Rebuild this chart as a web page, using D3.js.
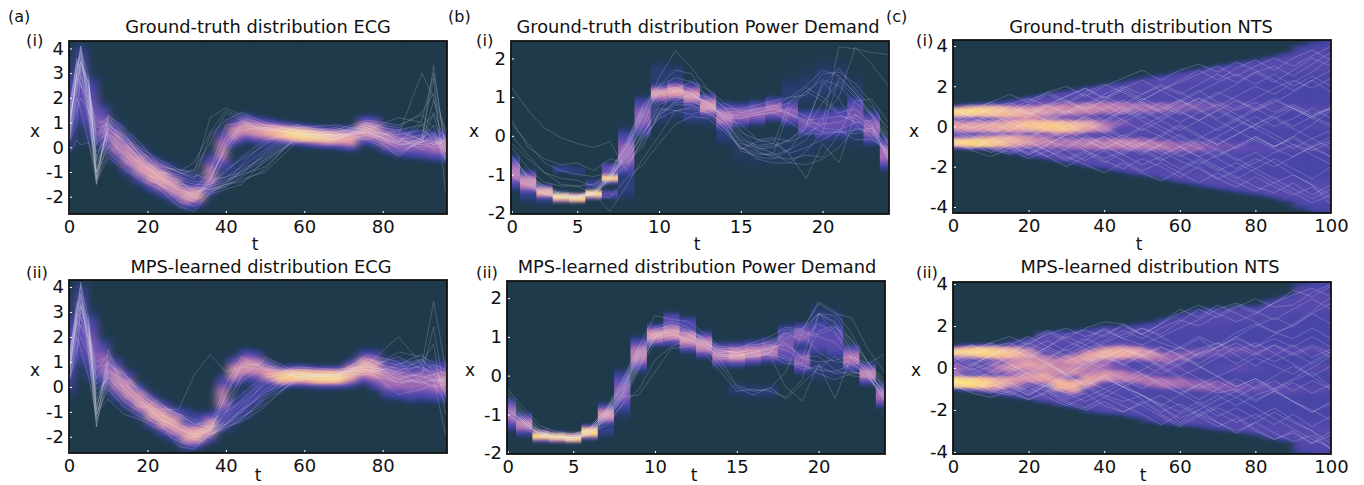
<!DOCTYPE html>
<html>
<head>
<meta charset="utf-8">
<script src="https://cdn.jsdelivr.net/npm/d3@7"></script>
<style>
  body { margin: 0; background: #fff; }
  text { font-family: "DejaVu Sans", sans-serif; fill: #111; }
</style>
</head>
<body>
<div id="viz"></div>
<script>
// colour ramp of the density images
const heatStops = [0, 0.04, 0.1, 0.2, 0.32, 0.45, 0.6, 0.75, 0.9, 1];
const heatColors = ["#1f3a4a", "#223a5c", "#32408a", "#4a46a8", "#5f4cb0", "#a56cb4", "#e6a0a6", "#f9c48c", "#ffdf70", "#fff6b0"];

// ECG density, one column every 3 t
const ecgCols = [0,3,6,9,12,15,18,21,24,27,30,33,36,39,42,45,48,51,54,57,60,63,66,69,72,75,78,81,84,87,90,93,96];
const ecgTruthCenter = [1.5,2.5,1.5,.8,.2,-.3,-.7,-1.05,-1.3,-1.6,-1.95,-1.9,-1.1,-.1,.6,.8,.7,.65,.6,.55,.5,.45,.4,.4,.35,.7,.65,.35,.2,.15,.1,.05,.05];
const ecgTruthSpread = [1.1,1.1,.9,.62,.55,.53,.5,.47,.47,.44,.36,.33,.55,.55,.38,.38,.36,.33,.3,.28,.28,.28,.28,.3,.33,.38,.4,.38,.38,.38,.37,.4,.4];
const ecgTruthPeak = [.28,.33,.36,.42,.5,.54,.58,.62,.6,.56,.58,.58,.5,.5,.54,.56,.58,.64,.72,.85,.85,.78,.74,.64,.62,.58,.56,.5,.44,.42,.42,.44,.5];
const ecgTruthLagCenter = [0,0,0,0,0,0,0,0,0,-1,-1.3,-1.5,-1.4,-1.2,-.9,-.6,-.3,0,.2,.3,.3,.3,.3,.3,.3,.3,.3,.3,.3,.3,.3,.3,.3];
const ecgTruthLagSpread = [.3,.3,.3,.3,.3,.3,.3,.3,.3,.3,.3,.3,.35,.35,.4,.4,.4,.3,.3,.3,.3,.3,.3,.3,.3,.3,.3,.3,.3,.3,.3,.3,.3];
const ecgTruthLagPeak = [0,0,0,0,0,0,0,0,0,.08,.12,.14,.08,.08,.08,.07,.07,.08,.08,0,0,0,0,0,0,0,0,0,0,0,0,0,0];
const ecgMpsCenter = [1.3,2.5,1.6,.9,.3,-.1,-.55,-.95,-1.25,-1.5,-1.9,-1.9,-1.6,-.4,.6,.85,.8,.55,.4,.45,.45,.4,.4,.4,.55,.8,.7,.35,.3,.2,.25,.2,.25];
const ecgMpsSpread = [1.1,1.1,.9,.65,.55,.5,.45,.45,.45,.45,.4,.36,.4,.55,.4,.43,.43,.33,.28,.28,.28,.28,.28,.28,.36,.43,.5,.52,.52,.52,.52,.52,.52];
const ecgMpsPeak = [.28,.33,.38,.44,.52,.56,.58,.62,.64,.6,.6,.66,.62,.5,.56,.56,.54,.6,.76,.8,.8,.82,.85,.8,.68,.64,.6,.48,.46,.44,.44,.46,.54];
const ecgMpsLagCenter = [0,0,0,0,0,0,0,0,0,0,-1.2,-1.4,-1.6,-1.4,-1,-.7,-.2,.1,.2,.3,.3,.3,.3,.3,.3,.3,.3,.3,.3,.3,.3,.3,.3];
const ecgMpsLagSpread = [.3,.3,.3,.3,.3,.3,.3,.3,.3,.3,.3,.3,.25,.3,.4,.42,.42,.3,.3,.3,.3,.3,.3,.3,.3,.3,.3,.3,.3,.3,.3,.3,.3];
const ecgMpsLagPeak = [0,0,0,0,0,0,0,0,0,0,.15,.2,.24,.24,.2,.2,.2,.18,.12,0,0,0,0,0,0,0,0,0,0,0,0,0,0];

// Power Demand density, one block per hour
const powerCols = [1,2,3,4,5,6,7,8,9,10,11,12,13,14,15,16,17,18,19,20,21,22,23,24];
const powerTruthCenter = [-.95,-1.2,-1.45,-1.58,-1.6,-1.5,-1.08,-.45,.5,1.1,1.15,1.05,.78,.5,.55,.6,.7,.6,.35,.3,.35,.55,.2,-.45];
const powerTruthSpread = [.27,.2,.12,.085,.08,.08,.09,.4,.33,.16,.18,.2,.2,.24,.2,.2,.2,.22,.22,.27,.27,.32,.28,.28];
const powerTruthPeak = [.48,.54,.66,.92,.96,.95,.82,.42,.4,.58,.6,.56,.56,.48,.44,.44,.46,.4,.36,.34,.34,.36,.42,.46];
const powerTruthLowCenter = [0,-1.5,-1.6,-.85,-.9,-1.25,-.85,-1.3,0,.6,.7,.6,.5,.1,-.3,-.4,-.4,-.3,-.2,0,.1,.1,.1,-.6];
const powerTruthLowSpread = [.1,.15,.15,.08,.1,.1,.1,.25,.1,.25,.25,.2,.2,.25,.3,.3,.3,.35,.35,.35,.3,.3,.3,.2];
const powerTruthLowPeak = [0,.1,.09,.12,.08,.14,.34,.08,0,.08,.07,.12,.07,.08,.05,.05,.05,.05,.05,.05,.06,.06,.06,.1];
const powerTruthHighCenter = [0,0,0,0,0,0,-1.5,0,0,1.6,1.6,0,0,0,0,0,0,1.1,1.2,1.4,1.4,1.2,0,0];
const powerTruthHighSpread = [.1,.1,.1,.1,.1,.1,.07,.1,.1,.25,.2,.1,.1,.1,.1,.1,.1,.3,.4,.4,.4,.3,.1,.1];
const powerTruthHighPeak = [0,0,0,0,0,0,.32,0,0,.07,.07,0,0,0,0,0,0,.07,.06,.07,.06,.05,0,0];
const powerMpsCenter = [-1.0,-1.25,-1.55,-1.58,-1.6,-1.45,-1.0,-.4,.55,1.05,1.1,.95,.8,.55,.55,.6,.65,.8,.4,1.0,.9,.45,.05,-.5];
const powerMpsSpread = [.26,.18,.1,.085,.08,.12,.18,.35,.28,.18,.2,.22,.22,.2,.2,.2,.2,.33,.22,.32,.32,.22,.18,.2];
const powerMpsPeak = [.44,.5,.85,.88,.93,.88,.56,.38,.5,.58,.58,.56,.54,.5,.58,.54,.5,.38,.4,.3,.3,.48,.5,.46];
const powerMpsLowCenter = [0,0,0,0,0,0,-1.4,-.8,0,0,0,0,0,0,-.35,-.4,-.4,0,1.05,.2,.2,0,0,0];
const powerMpsLowSpread = [.1,.1,.1,.1,.1,.1,.12,.25,.1,.1,.1,.1,.1,.1,.14,.14,.14,.1,.2,.25,.25,.1,.1,.1];
const powerMpsLowPeak = [0,0,0,0,0,0,.1,.08,0,0,0,0,0,0,.07,.07,.07,0,.4,.08,.07,0,0,0];
const powerMpsHighCenter = [0,0,0,0,0,0,0,0,0,0,1.4,1.3,0,0,0,0,0,0,0,1.5,1.4,0,0,0];
const powerMpsHighSpread = [.1,.1,.1,.1,.1,.1,.1,.1,.1,.1,.16,.16,.1,.1,.1,.1,.1,.1,.1,.25,.25,.1,.1,.1];
const powerMpsHighPeak = [0,0,0,0,0,0,0,0,0,0,.32,.24,0,0,0,0,0,0,0,.08,.08,0,0,0];

// NTS density, one column every 4 t
const ntsCols = [0,4,8,12,16,20,24,28,32,36,40,44,48,52,56,60,64,68,72,76,80,84,88,92,96,100];
const ntsArmSpread = [.3,.3,.32,.34,.36,.36,.36,.36,.36,.36,.36,.36,.34,.34,.34,.34,.34,.34,.34,.34,.32,.32,.3,.3,.3,.3];
const ntsOuterSpread = [.3,.3,.3,.3,.35,.4,.45,.5,.5,.5,.55,.55,.6,.6,.6,.65,.65,.7,.7,.7,.7,.7,.75,.8,.8,.8];
const ntsTruthTop = [1.15,1.2,1.25,1.35,1.45,1.6,1.7,1.85,1.95,2.1,2.2,2.3,2.45,2.6,2.7,2.85,2.95,3.1,3.2,3.35,3.45,3.6,3.8,4.2,4.4,4.6];
const ntsTruthBottom = [-1.15,-1.2,-1.25,-1.35,-1.45,-1.6,-1.7,-1.85,-1.95,-2.1,-2.2,-2.35,-2.5,-2.6,-2.75,-2.9,-3,-3.15,-3.25,-3.4,-3.5,-3.65,-3.85,-4.2,-4.4,-4.6];
const ntsTruthBase = [.3,.3,.3,.3,.3,.3,.3,.28,.27,.26,.26,.25,.25,.24,.24,.24,.23,.23,.23,.22,.22,.2,.2,.2,.2,.2];
const ntsTruthUpCenter = [.8,.8,.8,.75,.7,.7,.8,.85,.85,.9,.95,.95,.95,.95,.95,1,1,1,1,1,1,1,.95,.9,.9,.85];
const ntsTruthUpPeak = [.86,.88,.82,.74,.68,.62,.58,.56,.54,.54,.52,.5,.46,.44,.42,.4,.38,.36,.34,.32,.31,.3,.28,.27,.27,.27];
const ntsTruthMidCenter = [.05,0,0,0,.05,.1,.05,0,0,.05,0,.2,.15,.1,.1,.05,0,0,0,0,0,0,0,0,0,0];
const ntsTruthMidPeak = [.6,.62,.62,.64,.68,.74,.78,.78,.72,.62,.5,.38,.32,.28,.26,.25,.24,.23,.23,.23,.23,.23,.24,.24,.24,.24];
const ntsTruthLowCenter = [-.85,-.85,-.8,-.75,-.7,-.7,-.75,-.8,-.85,-.85,-.85,-.85,-.85,-.9,-.95,-1,-1,-1,-1,-1,-1.05,-1.05,-1.05,-1.05,-1,-.9];
const ntsTruthLowPeak = [.88,.9,.83,.74,.66,.58,.52,.48,.48,.5,.5,.52,.52,.5,.48,.44,.42,.38,.35,.33,.31,.3,.28,.27,.27,.27];
const ntsTruthOutUpCenter = [1.2,1.2,1.2,1.3,1.4,1.5,1.5,1.6,1.7,1.8,1.9,2.0,2.1,2.2,2.4,2.5,2.6,2.7,2.7,2.8,2.9,3.0,3.1,3.2,3.2,3.2];
const ntsTruthOutUpPeak = [0,0,0,.2,.25,.3,.31,.31,.31,.3,.29,.29,.28,.28,.28,.28,.28,.28,.28,.28,.28,.28,.28,.28,.28,.28];
const ntsTruthOutLowCenter = [-1.2,-1.2,-1.2,-1.3,-1.4,-1.5,-1.5,-1.6,-1.7,-1.8,-1.9,-2.0,-2.1,-2.2,-2.4,-2.5,-2.6,-2.7,-2.8,-2.9,-3.0,-3.0,-3.1,-3.2,-3.2,-3.2];
const ntsTruthOutLowPeak = [0,0,0,.2,.25,.3,.31,.31,.31,.3,.29,.29,.28,.28,.28,.28,.28,.28,.28,.28,.28,.28,.28,.28,.28,.28];
const ntsMpsTop = [1.15,1.2,1.25,1.25,1.4,1.55,1.85,1.9,1.9,2.0,2.15,2.1,2.2,2.3,2.5,2.7,2.9,3.0,3.0,3.1,3.1,3.4,3.6,4.2,4.4,4.6];
const ntsMpsBottom = [-1.15,-1.2,-1.3,-1.4,-1.5,-1.6,-1.75,-1.9,-2.0,-2.2,-2.3,-2.35,-2.5,-2.7,-2.8,-2.85,-2.9,-3.0,-3.1,-3.2,-3.3,-3.5,-3.6,-4.2,-4.4,-4.6];
const ntsMpsBase = [.3,.3,.3,.3,.3,.3,.3,.26,.26,.25,.24,.24,.22,.22,.22,.21,.21,.21,.2,.2,.2,.2,.2,.2,.2,.2];
const ntsMpsUpCenter = [.85,.85,.8,.75,.7,.65,.35,.25,.35,.55,.7,.75,.75,.65,.5,.55,.7,.75,.8,.85,.85,.85,.85,.85,.85,.85];
const ntsMpsUpPeak = [.84,.88,.86,.78,.7,.58,.53,.53,.58,.63,.66,.66,.62,.56,.46,.42,.38,.36,.35,.34,.33,.31,.29,.28,.28,.28];
const ntsMpsMidCenter = [0,0,0,0,.1,.2,.1,-.1,-.1,0,.1,.1,0,0,0,0,0,0,0,0,0,0,0,0,0,0];
const ntsMpsMidPeak = [.46,.34,.34,.46,.56,.6,.58,.55,.55,.5,.45,.34,.24,.3,.34,.32,.27,.22,.27,.3,.27,.2,.22,.25,.27,.27];
const ntsMpsLowCenter = [-.65,-.7,-.7,-.7,-.6,-.4,-.4,-.75,-.85,-.55,-.35,-.35,-.45,-.6,-.7,-.7,-.8,-.85,-.9,-.95,-.95,-.95,-1,-1,-1,-1];
const ntsMpsLowPeak = [.93,.9,.83,.68,.58,.58,.63,.7,.68,.63,.58,.53,.5,.48,.48,.46,.42,.42,.38,.36,.34,.33,.31,.28,.27,.27];
const ntsMpsOutUpCenter = [1.2,1.2,1.2,1.3,1.4,1.5,1.5,1.5,1.5,1.6,1.7,1.7,1.8,1.9,2.1,2.3,2.4,2.5,2.5,2.6,2.6,2.8,3.0,3.2,3.2,3.2];
const ntsMpsOutUpPeak = [0,0,0,.2,.25,.3,.32,.3,.27,.28,.28,.26,.25,.25,.26,.27,.27,.27,.27,.27,.26,.26,.27,.28,.28,.28];
const ntsMpsOutLowCenter = [-1.2,-1.2,-1.2,-1.3,-1.4,-1.5,-1.5,-1.5,-1.6,-1.7,-1.8,-1.8,-1.9,-2,-2.3,-2.4,-2.5,-2.6,-2.7,-2.8,-2.9,-3,-3.1,-3.2,-3.2,-3.2];
const ntsMpsOutLowPeak = [0,0,0,.2,.25,.3,.3,.28,.28,.28,.28,.28,.26,.22,.27,.27,.27,.27,.27,.27,.27,.27,.27,.28,.28,.28];

// sampled traces on top of the densities
const ecgTraceT = [0,2,3,5,7,10,14,18,23,28,32,36,40,44,50,58,68,76,84,90,93,96];
const ecgTruthTraces = [
  [.3,3.2,4.1,2,-1.5,.5,-.2,-.6,-1.2,-1.6,-2,-1.3,0,.8,.7,.6,.4,.8,.3,.1,0,0],
  [1,3,3.8,1.5,-1.2,1,.2,-.4,-1,-1.5,-2,-1.2,-.1,.9,.75,.55,.45,.7,.25,.2,.3,.1],
  [.5,2.5,3.5,2.5,.5,.8,.1,-.6,-1.1,-1.3,-1.9,-1.6,-.3,.7,.8,.7,.5,1,.6,.3,.1,.3],
  [1.5,3.5,3,2.2,-.5,1.2,.5,-.1,-.8,-.9,-1,1.2,1.6,1.3,.9,.7,.5,.9,.5,3,2,-.5],
  [-.3,.3,.1,.2,-1.4,-.4,-.9,-1.3,-1.7,-2.4,-2.6,-1.8,-1.5,-1.3,-1,.2,.5,.6,.2,.1,.2,0],
  [.2,1.5,2,1.5,-1,.5,-.5,-.9,-1.4,-2.1,-1.8,-1.6,-1.4,-1,-.3,.6,.4,.3,-.3,.3,3.3,-.2],
  [.8,2.8,2.5,2,.8,.9,.5,-.3,-.7,-1,-.6,.6,1.5,1.2,.9,.8,.7,1.1,.9,1.3,.8,-.6],
  [.4,2,1.5,.2,-1,.8,.2,-.5,-1.2,-1.7,-1.9,-1.5,-1,-.4,.3,.6,.3,.7,-.4,.4,2.8,-1.8],
  [1.2,3.3,3.7,1.8,-.2,.4,-.3,-.8,-1.3,-1.8,-2.1,-1.4,.2,.9,.8,.5,.35,.6,.15,0,.2,.3],
  [.6,3,2.6,1.5,.9,1.2,.6,-.3,-1,-1.2,-1.4,-1.4,-1.2,-.8,-.1,.8,.9,.7,1.2,1,.5,.2],
  [.2,1,3.2,2.6,-1,0,-.6,-1.1,-1.5,-1.9,-2.2,-1.7,-1.6,-1.2,-.6,.3,.6,.9,.4,-.1,.1,.2],
  [.9,2.6,3.4,2.8,-.8,.7,.3,-.2,-.6,-1,-1.2,-.9,.9,1,.7,.6,.8,.5,0,.4,.6,-.1],
  [.7,2.9,4.1,1.3,-1.5,1.3,.7,0,-.5,-.9,-1.1,-1.3,-1.2,-1,-.5,.4,.7,.6,.1,.3,.9,.4],
  [1.1,3.6,3.2,2.4,.2,.6,-.1,-.7,-1.2,-1.6,-1.7,-1.5,-.9,-.5,.1,.8,.5,.4,-.2,.2,1.9,.6],
  [.1,2.2,2.9,1.9,-1.3,-.2,-.8,-1.2,-1.5,-2.2,-2.4,-1.9,-1.4,-1.1,-.8,.4,.3,.9,.7,.9,1.3,-.4],
  [1.3,2.4,3.5,2.1,1.1,.9,.2,-.5,-1,-1.4,-1.7,-1,.4,1.1,.6,.9,.6,.8,.3,.5,.1,.5],
  [.6,3.1,3.9,2.9,-1.1,.9,.4,-.1,-.9,-1.4,-1.8,-1.7,-1.5,-1.4,-.9,.5,.5,.6,.5,.7,.4,.2],
  [.9,2.7,3.6,2.2,-.4,.6,0,-.7,-1.1,-1.7,-2,-1.8,-1.6,-.9,-.4,.5,.3,1,.2,1.1,3,.1],
  [1.6,3.4,2.8,1.7,.1,1.1,.4,-.3,-.9,-1.3,-1.5,-1.5,-1.3,-1.1,-.2,.7,.6,.3,.7,.3,-.1,.4],
  [.4,2.3,3.3,2.7,-.6,.3,-.3,-.9,-1.5,-2,-2.2,-1.3,.1,1,.9,.7,.3,.8,-.1,.2,.4,-.2],
  [.7,3,4,2.4,-1.3,.8,.1,-.4,-1,-1.1,-.9,.2,1.4,1.1,.8,.6,.5,.7,.4,.2,1.4,.3],
  [1,2.9,3.1,1.4,.6,1,.3,-.5,-1.1,-1.5,-1.6,-1.7,-1.5,-.7,.2,.9,.4,.6,.2,.9,.2,.1],
  [.3,1.8,2.6,1.1,-1.2,.1,-.5,-1,-1.3,-1.7,-2.1,-1.9,-1.7,-1.5,-.5,.3,.2,.5,.1,.2,.5,-.5],
  [1.4,3.2,3.4,2.6,.3,1.3,.8,.2,-.7,-1,-1.3,.5,1.1,1.4,1,.7,.6,1,.8,1.4,2.2,.7]
];
const ecgMpsTraces = [
  [.3,3,4.2,2.2,-1.6,.6,-.1,-.6,-1.2,-1.7,-2,-1.7,-.4,.9,.9,.4,.45,.9,.3,.2,0,.1],
  [.9,2.8,3.6,1.8,-.9,1.1,.3,-.4,-1,-1.5,-1.9,-1.8,-.3,.8,1,.5,.35,.8,.6,.4,.3,.2],
  [.5,2.4,3.2,2.6,.4,1,.2,-.5,-1.1,-1.4,-1.9,-1.7,-1.2,-.5,.4,.5,.4,1,.4,.5,.2,.4],
  [.2,1.5,2,1.3,-1.6,1.5,-.2,-.9,-1.4,-2.4,-2.5,-1.8,-1.5,-1.2,-.7,.3,.5,.7,.2,.2,.3,-1.9],
  [1,3.2,3.5,1.6,-.3,.4,-.4,-.8,-.9,-.9,.5,1.3,.6,.8,.7,.6,.5,.8,1.2,.7,.6,.1],
  [.7,2.6,2.4,2,.8,.9,.5,-.3,-.8,-1.1,-1.5,-1.6,-1.5,-1,-.1,.6,.35,.9,2,.9,3.4,.8],
  [.4,2,1.5,.4,-1.2,.7,.2,-.5,-1.3,-1.6,-2,-1.9,-1.5,-.9,.2,.5,.45,1,.3,.5,2.4,-.4],
  [1.2,3.1,3.8,2,-.1,.3,-.2,-.7,-1.3,-1.8,-2.1,-1.6,-.2,1,.8,.4,.3,.7,.5,.1,.3,.3],
  [.6,2.9,2.8,1.7,.7,1.3,.6,-.2,-.8,-1.2,-1.4,-1.7,-1.4,-.9,-.3,.7,.6,1.1,.9,1.1,.7,.2],
  [.3,1.1,3.3,2.4,-1,-.5,-1.1,-1.3,-1.7,-2.2,-2.4,-1.9,-1.7,-1.3,-.5,.2,.6,.6,.8,1,1.7,-1.1],
  [.8,2.5,3.4,2.7,-.7,.6,.3,-.1,-.7,-1.1,-1.3,-1.6,-1.1,.2,.9,.5,.5,.5,.2,.3,.5,0],
  [.6,2.7,4.1,1.2,-1.3,1,.5,0,-.6,-1.2,-1.6,-1.8,-1,.5,1.2,.6,.4,1.1,.7,.8,.5,.6],
  [1.1,3.4,3,2.3,.1,.7,0,-.6,-1.1,-1.5,-1.8,-1.6,-.8,-.3,.5,.7,.6,.7,.3,.6,.9,.7],
  [.1,2.1,2.8,1.9,-1.1,-.1,-.8,-1.2,-1.5,-2.1,-2.3,-2,-1.5,-1,-.2,.3,.3,.6,1.4,1.2,1,-.3],
  [.5,2.8,3.7,2.5,-.9,.9,.4,-.2,-.9,-1.3,-1.7,-1.9,-1.6,-1.3,-.4,.4,.5,1.2,.5,.9,.2,.3],
  [1,3,3.3,1.9,.3,.8,.1,-.4,-1,-1.6,-2,-2,-1.3,-.7,.1,.6,.3,.5,.9,1.3,.8,.5],
  [.6,2.2,3,2.1,-.5,.5,-.3,-.8,-1.4,-1.9,-2.1,-1.7,-.6,.4,1.1,.5,.5,.9,.1,.4,.5,-.2],
  [.8,3.3,4,2.8,-1.1,.4,0,-.7,-1.2,-1.7,-1.9,-1.5,.1,1.2,.7,.4,.4,1.3,1,.2,0,.4],
  [1.3,2.6,3.2,2.2,1,1.2,.5,-.1,-.7,-1.1,-1.5,-1.4,-1,-.6,.3,.8,.7,.8,.6,1.1,.6,.1],
  [.2,1.7,2.5,1.5,-1.4,.2,-.6,-1,-1.6,-2,-2.2,-1.9,-1.6,-1.4,-.8,.4,.2,.7,-.3,-.1,.1,-.6]
];
const powerTruthTraces = [
  [-.8,-1.15,-1.4,-1.55,-1.6,-1.45,-1.05,-.4,.55,1.1,1.2,1.1,.8,.5,.55,.6,.7,.6,.35,.3,.35,.55,.2,-.45],
  [-.6,-1,-1.3,-1.5,-1.55,-1.5,-1.1,-.55,.35,1,1.15,1.05,.85,.6,.65,.7,.8,.55,.4,.45,.5,.45,.1,-.6],
  [-1,-1.3,-1.5,-1.6,-1.6,-1.45,-1,-.2,.7,1.25,1.35,1.2,.85,.45,.45,.55,.6,.7,.5,.2,.15,.35,.25,-.3],
  [.3,-.2,-.7,-.9,-1,-1.05,-.95,-.55,.2,.9,1.05,1,.9,.55,0,-.35,-.3,-.1,.2,.85,1.4,1,.55,-.1],
  [1.25,.65,.2,-.05,-.2,-.3,-.15,-.9,-.05,.45,.65,.7,.6,.3,-.3,-.45,-.5,-.35,-.1,.5,1,2.3,1.85,1.3],
  [.4,-.3,-.6,-.75,-.7,-.9,-.6,-.7,-.3,.6,.85,.9,.7,.4,-.15,-.4,-.55,-.6,-.5,-.55,.05,.9,.95,.35],
  [-.3,-.85,-1.2,-1.3,-1.3,-1.5,-1.95,-1.3,-.6,0,.65,.75,.7,.45,-.1,-.25,-.2,-.45,-.3,-.1,.15,-.1,-.1,-.35],
  [-.5,-1.1,-1.35,-1.5,-1.55,-1.5,-1.2,-.8,-.1,.5,.9,1.1,1,.75,.15,-.3,-.45,.7,1.15,.9,.55,.35,.4,-.2],
  [-.7,-1.05,-1.3,-1.45,-1.5,-1.55,-1.6,-1.1,-.75,-.2,.3,.5,.45,.1,-.3,-.6,-.7,-.7,-.75,-.6,-.3,.2,.1,-.5],
  [-.2,-.6,-.95,-1.1,-1.15,-1.3,-.85,-.3,.5,1.5,2.2,1.75,1.2,.7,.7,.8,.9,1,1.3,1.7,1.55,1.1,.6,0],
  [-.9,-1.2,-1.45,-1.6,-1.6,-1.5,-1.1,-.5,.25,1.3,1.7,1.6,.9,.45,.3,-.1,-.05,-.15,.05,.3,2.3,2.25,2.15,2.1],
  [-.75,-1.15,-1.4,-1.55,-1.6,-1.4,-1,-.25,.75,1.2,1.25,1.1,.75,.55,.6,.7,.75,1,1.05,1.6,1.65,1.35,.85,.05],
  [-1,-1.35,-1.55,-1.6,-1.6,-1.45,-1.1,-.7,.05,.7,.65,.55,.7,.2,-.35,-.15,-.1,-.5,-1.1,-.2,-.7,.55,.3,-.6],
  [-.85,-1.2,-1.5,-1.6,-1.6,-1.5,-1.1,-.45,.45,1.1,1.15,1,.75,.5,.45,.55,.6,.35,.05,.05,.1,.15,.2,-.5],
  [-.95,-1.25,-1.5,-1.55,-1.55,-1.35,-.95,-.15,.8,1.3,1.5,1.4,1,.6,.1,-.1,-.2,.9,1.25,1,.6,.7,.3,-.4],
  [-.65,-1.1,-1.4,-1.5,-1.55,-1.4,-1.05,-.6,0,.8,1,.95,.6,.3,-.4,-.5,-.45,-.7,-.4,.1,1.5,1.1,.5,-.2],
  [-.55,-1.05,-1.35,-1.5,-1.55,-1.45,-1.15,-.75,-.2,.6,1.2,1.4,1.2,.85,.6,.65,.75,.85,1.15,1.45,1.3,.85,.55,-.15],
  [-.9,-1.25,-1.45,-1.55,-1.6,-1.5,-1.15,-.35,.6,1.15,1.2,1.05,.85,.4,-.2,-.3,-.25,-.1,.3,.1,.1,.05,.2,-.55],
  [-1.05,-1.3,-1.5,-1.6,-1.6,-1.5,-1.05,-.3,.65,1.15,1.25,1.1,.8,.55,.5,.6,.7,.55,.3,1.3,1.75,1.2,.75,.2],
  [0,-.5,-.95,-1.25,-1.3,-1.25,-1,-.65,.1,.55,.8,.8,.55,.2,-.3,-.55,-.6,-.35,.25,1.4,.95,.3,-.05,-.4]
];
const powerMpsTraces = [
  [-.6,-1.05,-1.45,-1.5,-1.55,-1.4,-.95,-.3,.6,1.05,1.1,.95,.8,.55,.55,.6,.7,.85,.45,1.6,1.35,.6,.05,-.55],
  [-.9,-1.2,-1.5,-1.6,-1.6,-1.45,-1,-.45,.55,1.1,1.2,1.05,.85,.6,.6,.65,.7,1,1.1,1,.85,.45,.1,-.4],
  [-1,-1.3,-1.55,-1.6,-1.65,-1.5,-1.1,-.5,.4,1,1.05,.9,.75,.5,.5,.55,.6,.95,1.05,.6,.35,.35,0,-.6],
  [-.35,-.85,-1.3,-1.45,-1.5,-1.35,-.85,-.1,.75,1.55,1.45,1.4,1.1,.75,.7,.85,1,1.25,1.2,1.85,1.6,1.5,.7,.1],
  [-.75,-1.15,-1.45,-1.55,-1.6,-1.5,-1.15,-.55,-.5,.1,.7,.75,.6,.1,-.4,-.35,-.4,-.55,-.1,1.6,1.55,.9,.35,-.3],
  [-.85,-1.2,-1.55,-1.6,-1.6,-1.45,-1.3,-.75,-.35,.4,.75,.95,.8,.25,-.3,-.5,-.3,-.6,-.2,.2,.5,.15,-.05,-.5],
  [-.95,-1.25,-1.5,-1.6,-1.55,-1.35,-.9,-.3,.5,1,1.15,1.05,.9,.55,.5,.6,.65,.5,.3,.05,-.1,.05,.1,-.45],
  [-.7,-1.1,-1.45,-1.55,-1.6,-1.45,-1.05,-.4,.65,1.15,1.35,1.15,.95,.7,.7,.8,.85,1.05,1.15,1.9,1.65,1.1,.35,-.2],
  [-1.05,-1.3,-1.5,-1.55,-1.6,-1.5,-1.1,-.65,.25,.95,1,.85,.65,.4,.5,.5,.55,-.3,-.65,.3,-.6,.5,.3,.55],
  [-.8,-1.2,-1.55,-1.65,-1.65,-1.4,-.95,-.2,.6,1.2,1.3,1.1,.8,.5,.5,.6,.7,.8,.5,.5,.15,0,-.05,-.6],
  [-.9,-1.2,-1.5,-1.55,-1.6,-1.55,-1.2,-.75,.15,.85,.95,1,.85,.4,-.25,-.4,-.35,.1,1.1,1.6,1.15,.55,.15,-.4],
  [-.55,-1,-1.4,-1.5,-1.5,-1.4,-1,-.35,.45,1.05,1.2,1.1,.85,.65,.6,.7,.8,.65,.45,.35,.4,.5,.2,-.5],
  [-1.1,-1.35,-1.6,-1.65,-1.7,-1.5,-1,-.45,.5,1.1,1.1,.9,.7,.45,.45,.5,.55,.45,.25,.15,.1,.3,.05,-.65],
  [-.75,-1.15,-1.45,-1.6,-1.6,-1.4,-1.05,-.5,.35,1,1.25,1.15,1,.7,.55,.45,.6,1.2,1.15,1.05,1.25,.95,.35,-.1],
  [-.65,-1.1,-1.5,-1.6,-1.55,-1.4,-.95,-.25,.7,1.1,1.3,1.2,.95,.6,.65,.75,.9,1.1,1.2,1.6,1.4,.8,.25,-.35],
  [-1,-1.25,-1.5,-1.55,-1.6,-1.5,-1.05,-.55,.3,.95,1.05,.95,.75,.5,.55,.55,.6,.4,.15,.25,.05,.1,0,-.55],
  [-.85,-1.2,-1.55,-1.6,-1.65,-1.45,-1.15,-.6,.2,1,1.15,1.1,.9,.65,.6,.65,.75,1.1,.9,1.35,1.1,.45,.1,-.45],
  [-.45,-.95,-1.4,-1.5,-1.55,-1.35,-.9,-.15,.75,1.25,1.4,1.25,.9,.55,.4,.5,.55,.3,.3,1.15,1.3,.7,.15,-.25]
];
const ntsTraceT = [0,5,10,15,20,25,30,35,40,45,50,55,60,65,70,75,80,85,90,95,100];
const ntsTruthTraces = [
  [.8,.5,.9,.4,.8,1.1,.6,1,1.5,1.1,1.6,2,1.6,2.1,2.6,2.2,2.7,3,2.5,3.1,3.7],
  [-.8,-.4,-.9,-.5,-.1,-.6,-.2,.3,-.2,.4,.9,.4,.9,1.4,1,1.5,2,1.6,2.2,2.7,3.4],
  [.9,.4,.1,.5,.9,.5,1.1,1.6,1.1,.6,1.1,.7,.2,.7,1.1,.6,.1,.6,1,.5,.9],
  [-.9,-.5,-1,-1.3,-.8,-1.2,-1.6,-1.2,-1.7,-2.1,-1.6,-2,-2.5,-2,-2.6,-3,-2.5,-3,-3.4,-3,-3.6],
  [.7,1,.6,1.1,1.4,1,1.5,1.9,1.4,1.9,2.3,1.8,1.3,1.8,1.2,.8,1.2,.7,1.1,.6,.9],
  [-.7,-1.1,-.7,-.2,-.6,-.1,-.6,-1,-.5,-1,-1.4,-.9,-1.4,-1.9,-1.4,-1,-.5,-1,-.5,-1,-.7],
  [.2,.7,.2,-.2,.2,.7,.2,-.3,.2,.7,1.2,.7,1.2,1.7,2.2,2.6,2.1,2.6,2,2.5,2],
  [-.2,-.7,-.3,.2,.7,.3,.8,.4,-.1,-.6,-.1,-.5,0,-.5,-.9,-.4,.1,.5,0,.5,.1],
  [.9,.5,.9,1.2,.7,.3,-.2,-.7,-1.1,-.6,-1.1,-1.6,-2.1,-1.6,-2.1,-2.6,-2.1,-1.6,-2.1,-2.6,-2],
  [-.9,-1.1,-.6,-1,-1.4,-1,-1.5,-1.9,-2.3,-1.8,-2.3,-2.7,-2.2,-1.7,-2.2,-1.8,-2.3,-2.8,-2.4,-2.9,-3.9],
  [.5,.1,.5,1,.6,1.1,1.5,1.9,1.4,1.9,1.4,1,.6,1.1,1.6,2.1,2.7,2.2,2.8,3.4,3],
  [-.5,-.1,.3,-.2,.3,-.2,-.7,-.2,.3,.8,.3,-.2,-.7,-1.1,-.6,-1.1,-.6,-1,-.5,.1,.8],
  [.8,1.1,.7,.2,-.2,-.7,-1,-.5,-.9,-1.4,-.9,-.4,.1,-.4,-.9,-.4,.1,-.4,-.9,-1.2,-.8],
  [-.8,-1.2,-1.5,-1.1,-.7,-1.2,-.7,-1.2,-1.6,-1.2,-.8,-1.2,-1.7,-2.1,-2.6,-2.2,-1.8,-1.3,-.9,-1.4,-1.9],
  [.6,.9,1.2,.8,1.3,1.7,2,1.5,2,2.4,2.8,2.3,2.8,3.1,2.7,3.2,2.8,2.3,1.8,2.3,1.7],
  [-.6,-.2,-.7,-1.1,-1.6,-1.2,-1.7,-1.3,-1.8,-1.3,-.9,-1.4,-1,-1.5,-2,-2.5,-3,-3.3,-2.8,-3.4,-2.9],
  [.3,-.1,-.5,-.9,-1.3,-.9,-.4,.1,-.3,.2,.7,1.2,.7,.3,.8,.3,.8,1.3,.9,.4,.9],
  [-.3,.2,.6,1,.6,1,1.3,.9,1.3,.9,.4,.9,1.3,.8,.3,-.2,-.7,-1.1,-1.5,-1,-.5],
  [.1,.5,1,.6,1.1,.7,1.2,.8,.3,.8,1.3,1.8,2.3,2.8,2.3,2.9,3.3,2.8,3.4,3.8,3.3],
  [-.1,-.5,-1,-.6,-1.1,-1.5,-1.1,-.6,-1.1,-.7,-1.2,-1.7,-1.2,-.7,-1.2,-1.7,-1.3,-1.8,-2.4,-2.9,-3.4],
  [.4,.8,.4,0,-.5,-.1,.4,0,.5,1,.5,0,-.5,-1,-1.5,-1,-.5,-1,-.6,-1.1,-1.5],
  [-.4,0,-.4,.1,.5,1,.7,1.1,1.6,2,1.6,2.1,1.7,1.2,1.7,1.3,.8,1.2,1.7,2.3,2.8],
  [.7,.3,-.1,-.6,-.2,.3,-.2,.2,-.3,-.8,-1.3,-.9,-.4,-.9,-.5,0,.5,0,.4,.9,.4],
  [-.7,-.3,.1,.6,1,.6,.1,-.4,-.9,-.4,-.9,-.5,-1,-.6,-.1,.4,.9,.4,.9,.5,1],
  [1,.7,1.1,.7,1.1,1.6,1.2,1.7,2.1,1.7,1.2,.8,1.3,.9,.4,.9,1.4,1.9,2.3,1.9,2.4],
  [-1,-.7,-1.1,-1.4,-1,-1.5,-2,-1.5,-1,-1.4,-1.9,-1.5,-1,-1.5,-1.1,-1.6,-2.1,-2.6,-3.1,-3.6,-3.1],
  [.6,.2,.6,.2,-.3,.2,.7,1.2,.8,.3,-.2,.3,-.2,.3,.8,1.3,.9,1.4,.9,.4,0],
  [-.6,-.9,-1.3,-.9,-1.4,-.9,-.4,-.9,-.5,-1,-.5,-1,-1.5,-1.1,-1.6,-2.1,-1.6,-2,-1.5,-1,-1.5],
  [.3,.8,1.2,1.6,1.2,1.7,1.3,.8,1.3,1.8,1.3,1.8,2.2,2.6,3,2.5,3,3.4,3,3.5,4],
  [-.2,.2,-.2,-.7,-1.1,-.7,-1.2,-1.7,-1.2,-1.7,-2.2,-1.8,-2.3,-2.8,-2.3,-2.8,-3.2,-2.8,-3.3,-3.8,-3.4],
  [.9,.5,0,.4,0,.5,0,.5,.9,1.3,.8,.3,.8,.3,-.2,.3,-.1,.4,-.1,-.6,-.2],
  [-.9,-.6,-.1,-.5,-.9,-.5,0,.5,0,-.5,0,.5,1,1.4,.9,.4,-.1,-.6,-1.1,-.6,-1.1]
];
const ntsMpsTraces = [
  [.8,.4,.9,.5,.9,1.3,.8,1.3,1.9,1.4,1.9,1.6,2.2,2.8,2.4,2.9,3.3,2.9,3,3.6,4],
  [-.8,-.4,-.9,-.5,0,-.5,-.1,.5,.1,.7,1,.6,1,1.5,1.1,1.7,2.1,1.7,2,2.6,2.1],
  [.9,.5,.1,.5,.9,.4,1,1.4,1,.5,.9,.6,.1,.7,1.2,.6,.1,.6,1.1,.5,.9],
  [-.9,-.5,-1,-1.2,-.8,-1.1,-1.5,-1.2,-1.8,-2.1,-1.6,-2.2,-2.7,-2.2,-2.6,-3.1,-2.6,-3.1,-3.5,-3.2,-3.9],
  [.7,1.1,.6,1.1,1.5,1,1.6,1.8,1.5,2.1,1.6,1.2,.9,1.4,.8,1.2,.7,.3,.7,1.1,.7],
  [-.7,-1,-.6,-.2,-.6,-.9,-1.2,-.9,-.3,-.8,-1.3,-1.8,-2.6,-2,-1.5,-1.1,-.6,-1.1,-1.6,-2,-2.5],
  [.3,.7,.2,-.2,.2,-.3,-.8,-.4,.2,.7,.2,-.3,.2,.7,1,1.5,1,1.6,2.1,2.7,3.4],
  [-.2,-.6,-.2,.3,.7,.2,-.4,.2,.7,.2,-.3,-.7,-1.2,-.8,-.4,-.9,-.5,-1,-.6,-.2,-.9],
  [.9,.6,1,1.2,.7,.3,-.3,-.8,-.4,-.9,-1.3,-1.9,-2.4,-2,-2.6,-3,-2.6,-2.1,-2.6,-3,-3.9],
  [-.9,-1.1,-.7,-1.2,-1.5,-1.1,-1.6,-1.9,-1.4,-1.8,-2.2,-2.7,-2.2,-1.8,-1.3,-1.8,-1.3,-1,-1.6,-2.1,-1.7],
  [.5,.1,.6,1,.5,1,1.5,1.1,1.6,2,1.6,2.1,2.8,2.4,3,2.6,2.2,1.7,1.4,1.9,1.4],
  [-.5,-.1,.3,-.1,.4,.9,.5,.9,.5,.2,.6,1,.6,.2,.7,.2,.7,1.1,.6,1,.5],
  [.8,1.1,.7,.2,-.3,-.8,-1,-.6,-1,-.6,-.1,.4,0,-.5,-1,-.5,-1,-.6,-1.1,-.6,-1],
  [-.8,-1.2,-1.4,-1.1,-.6,-1,-1.4,-1,-.5,-.9,-1.3,-1.8,-1.3,-.8,-1.2,-1,-1.5,-1.1,-.7,-1.2,-.8],
  [.6,.9,1.2,.8,1.3,1.8,1.4,1.9,2.2,2.1,1.6,2.1,2.6,3,2.6,2.2,2.6,3.1,3.7,3.4,3.9],
  [-.6,-.2,-.7,-1.1,-1.5,-1.2,-1.7,-2,-1.6,-2.1,-1.7,-1.3,-1.8,-2.3,-2.8,-2.4,-3,-3.4,-3,-3.6,-3.2],
  [.3,-.1,-.5,-.9,-1.3,-.8,-.3,.2,.6,.1,.6,1,.6,.1,-.4,0,.5,.1,-.3,.3,.8],
  [-.3,.1,.6,.9,.5,1,.6,.1,.5,.9,.6,.1,.5,.9,1.2,.8,1.2,.7,.2,-.4,.1],
  [.1,.6,1,.7,1.2,.8,.3,.7,1.2,1.6,1.9,1.5,1.9,2.3,2.8,3.1,2.7,2.3,2.8,3.3,2.8],
  [-.1,-.6,-1.1,-.7,-1.2,-.8,-1.3,-.9,-1.4,-.9,-1.5,-2.1,-1.7,-2.2,-1.8,-1.4,-1.9,-2.4,-2.9,-3.4,-3.8],
  [.4,.8,.4,0,-.5,-.9,-.5,0,.5,.9,.5,0,-.5,-1,-.6,-1.1,-1.6,-1.1,-1.6,-2.1,-1.6],
  [-.4,0,-.4,.1,.6,.2,-.3,.3,.8,.4,.9,.5,1,.6,1,1.4,1,1.4,1,1.5,1],
  [.7,.3,-.1,-.6,-.2,.2,-.3,-.9,-.4,-.9,-.5,0,.5,.1,-.4,-.9,-.5,-1,-.5,0,.6],
  [-.7,-.3,.1,.6,1,.5,.9,.4,-.1,-.5,-1,-.5,-1,-1.5,-1,-1.4,-.9,-.4,.1,-.4,-1],
  [1,.7,1.1,.7,1.2,1.6,1.9,1.5,1.8,1.4,1.1,1.5,1,.5,1,1.5,2,2.4,2,2.6,3.1],
  [-1,-.7,-1.1,-1.3,-.9,-1.4,-1.8,-1.4,-1,-1.4,-1.8,-2.3,-2.8,-2.3,-1.9,-2.3,-2.9,-3.4,-3.1,-3.6,-3],
  [.6,.2,.6,.2,-.3,.1,.6,1.1,.7,1.1,.6,.1,-.4,0,.5,1,.6,1.1,.7,.2,.7],
  [-.6,-.9,-1.2,-.8,-1.3,-.8,-.4,-.8,-1.3,-1.6,-1.3,-1.7,-2.1,-1.6,-2.1,-2.6,-2.2,-2.7,-2.2,-2.8,-2.3],
  [.3,.8,1.2,1.5,1.1,1.7,1.3,.9,1.3,1.8,1.4,1.9,2.3,2,2.5,3,2.6,3.1,3.5,3.8,3.4],
  [-.2,.2,-.2,-.7,-1.1,-.7,-1.2,-1.6,-1.2,-.7,-.3,-.8,-1.2,-1.7,-2.3,-1.9,-2.4,-1.9,-2.5,-3,-3.6]
];

const width = 1364, height = 485;
const bgColor = heatColors[0];
const heat = d3.scaleLinear().domain(heatStops).range(heatColors).clamp(true);

const svg = d3.select("#viz").append("svg")
  .attr("width", width)
  .attr("height", height)
  .style("display", "block");
const defs = svg.append("defs");

function addBlur(id, sx, sy) {
  defs.append("filter").attr("id", id)
    .attr("color-interpolation-filters", "sRGB")
    .attr("x", "-5%").attr("y", "-5%").attr("width", "110%").attr("height", "110%")
    .append("feGaussianBlur").attr("stdDeviation", `${sx} ${sy}`);
}
addBlur("blurEcg", 4, 1);
addBlur("blurPower", 0.2, 1.4);
addBlur("blurNts", 4.5, 1.2);

const panels = [
  { title: "Ground-truth distribution ECG", box: [69, 41, 447, 214], xDomain: [0, 96.4], yDomain: [-2.7, 4.3],
    xTicks: [0, 20, 40, 60, 80], yTicks: [-2, -1, 0, 1, 2, 3, 4], titleX: 258, titleY: 33, labelX: 35, labelY: 137, tX: 255, tY: 250,
    cols: ecgCols, blur: "blurEcg", bands: [[ecgTruthLagCenter, ecgTruthLagSpread, ecgTruthLagPeak], [ecgTruthCenter, ecgTruthSpread, ecgTruthPeak]],
    traceT: ecgTraceT, traces: ecgTruthTraces, opacity: 0.27, tag: "(i)", tagX: 26, tagY: 46 },
  { title: "Ground-truth distribution Power Demand", box: [511, 41, 889, 214], xDomain: [0.95, 24.06], yDomain: [-2.02, 2.45],
    xTicks: [1, 5, 10, 15, 20], yTicks: [-2, -1, 0, 1, 2], titleX: 698, titleY: 33, labelX: 474, labelY: 137, tX: 697, tY: 250,
    cols: powerCols, blur: "blurPower", bands: [[powerTruthLowCenter, powerTruthLowSpread, powerTruthLowPeak], [powerTruthHighCenter, powerTruthHighSpread, powerTruthHighPeak], [powerTruthCenter, powerTruthSpread, powerTruthPeak]],
    traceT: powerCols, traces: powerTruthTraces, opacity: 0.27, tag: "(i)", tagX: 476, tagY: 46 },
  { title: "Ground-truth distribution NTS", box: [953, 40, 1331, 213], xDomain: [0, 100], yDomain: [-4.3, 4.3],
    xTicks: [0, 20, 40, 60, 80, 100], yTicks: [-4, -2, 0, 2, 4], titleX: 1141, titleY: 33, labelX: 914, labelY: 137, tX: 1139, tY: 250,
    cols: ntsCols, blur: "blurNts", envelope: [ntsTruthTop, ntsTruthBottom, ntsTruthBase],
    bands: [[ntsTruthOutUpCenter, ntsOuterSpread, ntsTruthOutUpPeak], [ntsTruthOutLowCenter, ntsOuterSpread, ntsTruthOutLowPeak], [ntsTruthMidCenter, ntsArmSpread, ntsTruthMidPeak], [ntsTruthUpCenter, ntsArmSpread, ntsTruthUpPeak], [ntsTruthLowCenter, ntsArmSpread, ntsTruthLowPeak]],
    traceT: ntsTraceT, traces: ntsTruthTraces, opacity: 0.3, tag: "(i)", tagX: 916, tagY: 46 },
  { title: "MPS-learned distribution ECG", box: [69, 280, 447, 453], xDomain: [0, 96.4], yDomain: [-2.65, 4.28],
    xTicks: [0, 20, 40, 60, 80], yTicks: [-2, -1, 0, 1, 2, 3, 4], titleX: 261, titleY: 273, labelX: 35, labelY: 376, tX: 258, tY: 481,
    cols: ecgCols, blur: "blurEcg", bands: [[ecgMpsLagCenter, ecgMpsLagSpread, ecgMpsLagPeak], [ecgMpsCenter, ecgMpsSpread, ecgMpsPeak]],
    traceT: ecgTraceT, traces: ecgMpsTraces, opacity: 0.27, tag: "(ii)", tagX: 26, tagY: 278 },
  { title: "MPS-learned distribution Power Demand", box: [507, 281, 885, 454], xDomain: [0.95, 24.06], yDomain: [-2.02, 2.44],
    xTicks: [1, 5, 10, 15, 20], yTicks: [-2, -1, 0, 1, 2], titleX: 697, titleY: 273, labelX: 470, labelY: 376, tX: 694, tY: 481,
    cols: powerCols, blur: "blurPower", bands: [[powerMpsLowCenter, powerMpsLowSpread, powerMpsLowPeak], [powerMpsHighCenter, powerMpsHighSpread, powerMpsHighPeak], [powerMpsCenter, powerMpsSpread, powerMpsPeak]],
    traceT: powerCols, traces: powerMpsTraces, opacity: 0.27, tag: "(ii)", tagX: 476, tagY: 278 },
  { title: "MPS-learned distribution NTS", box: [953, 282, 1331, 454], xDomain: [0, 100], yDomain: [-4.1, 4.1],
    xTicks: [0, 20, 40, 60, 80, 100], yTicks: [-4, -2, 0, 2, 4], titleX: 1150, titleY: 273, labelX: 916, labelY: 376, tX: 1143, tY: 481,
    cols: ntsCols, blur: "blurNts", envelope: [ntsMpsTop, ntsMpsBottom, ntsMpsBase],
    bands: [[ntsMpsOutUpCenter, ntsOuterSpread, ntsMpsOutUpPeak], [ntsMpsOutLowCenter, ntsOuterSpread, ntsMpsOutLowPeak], [ntsMpsMidCenter, ntsArmSpread, ntsMpsMidPeak], [ntsMpsUpCenter, ntsArmSpread, ntsMpsUpPeak], [ntsMpsLowCenter, ntsArmSpread, ntsMpsLowPeak]],
    traceT: ntsTraceT, traces: ntsMpsTraces, opacity: 0.3, tag: "(ii)", tagX: 916, tagY: 278 }
];

function density(panel, col, y) {
  let v = 0;
  panel.bands.forEach(([center, spread, peak]) => {
    const d = Math.abs(y - center[col]) / spread[col];
    v = Math.max(v, peak[col] * Math.exp(-0.5 * d * d * d));
  });
  if (panel.envelope) {
    const [top, bottom, base] = panel.envelope;
    const edge = Math.min((top[col] - y) / 0.3, (y - bottom[col]) / 0.3, 1);
    v = Math.max(v, base[col]) * Math.max(0, edge);
  }
  return v;
}

panels.forEach((panel, idx) => {
  const [x0, y0, x1, y1] = panel.box;
  const x = d3.scaleLinear().domain(panel.xDomain).range([x0, x1]);
  const y = d3.scaleLinear().domain(panel.yDomain).range([y1, y0]);
  const g = svg.append("g");

  defs.append("clipPath").attr("id", `clip${idx}`)
    .append("rect").attr("x", x0).attr("y", y0).attr("width", x1 - x0).attr("height", y1 - y0);

  const plot = g.append("g").attr("clip-path", `url(#clip${idx})`);
  plot.append("rect").attr("x", x0).attr("y", y0).attr("width", x1 - x0).attr("height", y1 - y0).attr("fill", bgColor);

  // density cells
  const step = panel.cols[1] - panel.cols[0];
  const rowValues = d3.range(-6, 60).map(i => y.invert(y1 - (i + 0.5) * 3));
  const cells = [];
  panel.cols.forEach((t, col) => {
    rowValues.forEach(value => cells.push({ t, col, value }));
  });
  plot.append("g").attr("filter", `url(#${panel.blur})`)
    .selectAll("rect")
    .data(cells)
    .enter().append("rect")
    .attr("x", d => x(d.t - step / 2))
    .attr("y", d => y(d.value) - 1.5)
    .attr("width", x(step) - x(0) + 0.4)
    .attr("height", 3.3)
    .attr("fill", d => heat(density(panel, d.col, d.value)));

  // sampled traces
  const line = d3.line().x((d, i) => x(panel.traceT[i])).y(d => y(d));
  plot.append("g")
    .selectAll("path")
    .data(panel.traces)
    .enter().append("path")
    .attr("d", line)
    .attr("fill", "none")
    .attr("stroke", "#e6e8f4")
    .attr("stroke-width", 0.75)
    .attr("stroke-opacity", panel.opacity);

  // axes with small white ticks inside the frame
  const xAxis = d3.axisBottom(x).tickValues(panel.xTicks)
    .tickSize(-3).tickPadding(6)
    .tickFormat(d => (panel.xTicks[0] === 1 && d === 1) ? "0" : d);
  const yAxis = d3.axisLeft(y).tickValues(panel.yTicks)
    .tickSize(-3).tickPadding(5)
    .tickFormat(d => String(d));
  const xg = g.append("g").attr("transform", `translate(0,${y1})`).call(xAxis);
  const yg = g.append("g").attr("transform", `translate(${x0},0)`).call(yAxis);
  [xg, yg].forEach(a => {
    a.select(".domain").remove();
    a.selectAll("line").attr("stroke", "#fff").attr("stroke-width", 1);
    a.selectAll("text").style("font-size", "18px").style("font-family", "'DejaVu Sans'").attr("fill", "#111");
  });

  g.append("rect").attr("x", x0).attr("y", y0).attr("width", x1 - x0).attr("height", y1 - y0)
    .attr("fill", "none").attr("stroke", "#111").attr("stroke-width", 1.8);

  g.append("text").attr("x", panel.titleX).attr("y", panel.titleY)
    .attr("text-anchor", "middle").style("font-size", "17.8px").text(panel.title);
  g.append("text").attr("x", panel.labelX).attr("y", panel.labelY)
    .attr("text-anchor", "middle").style("font-size", "17px").text("x");
  g.append("text").attr("x", panel.tX).attr("y", panel.tY)
    .attr("text-anchor", "middle").style("font-size", "17px").text("t");
  g.append("text").attr("x", panel.tagX).attr("y", panel.tagY)
    .style("font-size", "16.5px").text(panel.tag);
});

[["(a)", 8], ["(b)", 448], ["(c)", 886]].forEach(([label, lx]) => {
  svg.append("text").attr("x", lx).attr("y", 22).style("font-size", "16px").text(label);
});
</script>
</body>
</html>
